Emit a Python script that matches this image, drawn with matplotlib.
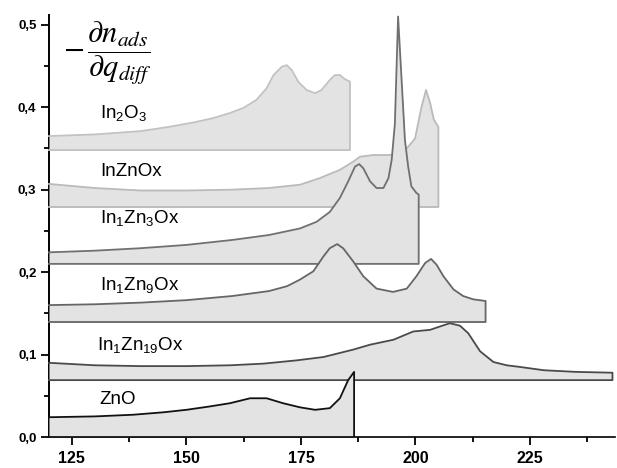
import matplotlib
matplotlib.use('Agg')
import matplotlib.pyplot as plt
from matplotlib.ticker import MultipleLocator, FuncFormatter

plt.rcParams['font.family'] = ['Liberation Sans', 'DejaVu Sans']
plt.rcParams['mathtext.fontset'] = 'custom'
plt.rcParams['mathtext.rm'] = 'Liberation Sans'
plt.rcParams['mathtext.it'] = 'Liberation Sans:italic'

# Данные кривых (смещённые по вертикали)
in2o3_x = [120, 130, 140, 146, 152, 156, 159.5, 162.4, 165.3, 167.5, 169, 170.8, 171.9,
           173, 174.4, 176.2, 178.1, 179.5, 181.3, 182.4, 183.5, 184.6, 185.7]
in2o3_y = [0.365, 0.367, 0.371, 0.376, 0.382, 0.387, 0.393, 0.399, 0.409, 0.423, 0.439,
           0.449, 0.451, 0.445, 0.431, 0.421, 0.417, 0.421, 0.433, 0.439, 0.439, 0.434, 0.431]

inznox_x = [120, 130, 140, 150, 160, 168, 174.8, 179.1, 183.5, 186.4, 187.9, 190.8, 194.4,
            196.5, 198.1, 199.9, 201.3, 202.3, 203.2, 204, 205]
inznox_y = [0.307, 0.302, 0.299, 0.299, 0.300, 0.302, 0.306, 0.314, 0.324, 0.334, 0.340,
            0.342, 0.342, 0.345, 0.350, 0.362, 0.400, 0.421, 0.405, 0.385, 0.376]

in1zn3_x = [120, 130, 140, 150, 160, 168, 174.8, 178.4, 181.3, 183.5, 185.3, 186.8, 187.7,
            188.6, 190.1, 191.5, 193, 194.1, 194.8, 195.5, 196.2, 196.9, 197.7, 198.4, 199.1,
            200.2, 200.7]
in1zn3_y = [0.224, 0.226, 0.229, 0.233, 0.239, 0.245, 0.253, 0.261, 0.273, 0.290, 0.310,
            0.328, 0.331, 0.326, 0.310, 0.302, 0.302, 0.314, 0.336, 0.380, 0.51, 0.44, 0.360,
            0.328, 0.304, 0.296, 0.294]

in1zn9_x = [120, 130, 140, 150, 160, 168, 172, 174.8, 177.7, 179.9, 181.3, 182.9, 184.2,
            186.4, 188.6, 191.5, 195.1, 198.1, 200.2, 202.1, 203.4, 204.6, 206.1, 208.3,
            210.4, 212.6, 215.3]
in1zn9_y = [0.160, 0.161, 0.163, 0.166, 0.171, 0.177, 0.183, 0.191, 0.201, 0.219, 0.229,
            0.234, 0.229, 0.213, 0.195, 0.180, 0.176, 0.180, 0.195, 0.211, 0.216, 0.209,
            0.195, 0.179, 0.171, 0.167, 0.165]

in1zn19_x = [120, 130, 140, 150, 159.5, 166.8, 174.1, 179.9, 186.4, 190.1, 195.2, 199.5,
             203.2, 205.3, 207.5, 209.7, 211.5, 214.1, 217, 219.9, 222.8, 228, 235, 243]
in1zn19_y = [0.090, 0.087, 0.086, 0.086, 0.087, 0.089, 0.093, 0.097, 0.106, 0.112, 0.118,
             0.128, 0.130, 0.134, 0.138, 0.135, 0.126, 0.104, 0.091, 0.087, 0.085, 0.081,
             0.079, 0.078]

zno_x = [120, 130, 138.3, 145, 150, 155, 159.5, 163.9, 167.5, 171.1, 174.8, 178.1, 181.3,
         183.5, 185.3, 186.6]
zno_y = [0.024, 0.025, 0.027, 0.030, 0.033, 0.037, 0.041, 0.047, 0.047, 0.041, 0.036,
         0.033, 0.035, 0.047, 0.069, 0.079]

baselines = [0.348, 0.279, 0.210, 0.1395, 0.069, 0.0]
names = ['In$_2$O$_3$', 'InZnOx', 'In$_1$Zn$_3$Ox', 'In$_1$Zn$_9$Ox', 'In$_1$Zn$_{19}$Ox', 'ZnO']
label_y = [0.393, 0.322, 0.266, 0.184, 0.112, 0.045]

series = [(in2o3_x, in2o3_y), (inznox_x, inznox_y), (in1zn3_x, in1zn3_y),
          (in1zn9_x, in1zn9_y), (in1zn19_x, in1zn19_y), (zno_x, zno_y)]
edge_colors = ['#c2c2c2', '#bababa', '#707070', '#666666', '#4a4a4a', '#111111']

fig = plt.figure(figsize=(6.17, 4.68), dpi=100)
ax = fig.add_axes([0.0794, 0.0662, 0.917, 0.902])

for i, ((xs, ys), base) in enumerate(zip(series, baselines)):
    z = 2 + i
    ax.fill_between(xs, base, ys, color='#e3e3e3', lw=0, zorder=z, clip_on=False)
    ox = list(xs) + [xs[-1], xs[0]]
    oy = list(ys) + [base, base]
    ax.plot(ox, oy, color=edge_colors[i], lw=1.3, zorder=z + 0.1, clip_on=False,
            solid_joinstyle='round')
    ax.text(131.1 if i != 4 else 130.5, label_y[i], names[i], fontsize=13.5,
            va='center', ha='left', zorder=10)

ax.text(0.024, 0.91, r'$-\,\dfrac{\partial n_{ads}}{\partial q_{diff}}$', transform=ax.transAxes,
        fontsize=22, math_fontfamily='stix', va='center', ha='left')

ax.set_xlim(120, 243.5)
ax.set_ylim(0, 0.512)
ax.spines['top'].set_visible(False)
ax.spines['right'].set_visible(False)
ax.spines['left'].set_zorder(1)
ax.spines['left'].set_linewidth(1.4)
ax.spines['bottom'].set_linewidth(1.2)

ax.xaxis.set_major_locator(MultipleLocator(25))
ax.xaxis.set_minor_locator(MultipleLocator(12.5))
ax.yaxis.set_major_locator(MultipleLocator(0.1))
ax.yaxis.set_minor_locator(MultipleLocator(0.05))
ax.yaxis.set_major_formatter(FuncFormatter(lambda v, p: f'{v:.1f}'.replace('.', ',')))
ax.tick_params(which='major', direction='out', length=6, width=1.3)
ax.tick_params(which='minor', direction='out', length=3.5, width=1.3)
ax.tick_params(axis='x', labelsize=11.5, pad=4)
ax.tick_params(axis='y', labelsize=9.5, pad=3)
for lab in ax.get_xticklabels() + ax.get_yticklabels():
    lab.set_fontweight('bold')

plt.savefig('out.png', dpi=100)
